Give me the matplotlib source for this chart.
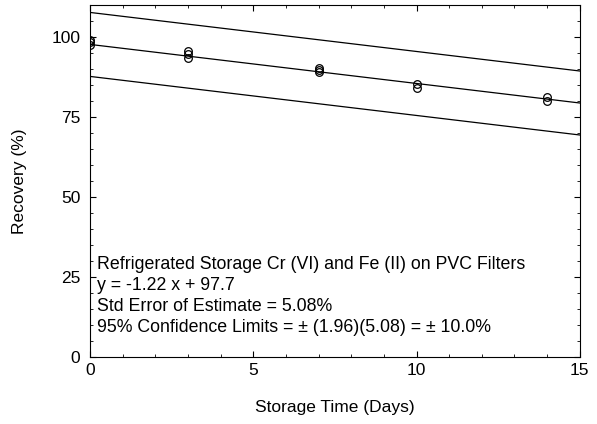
import matplotlib
matplotlib.use("Agg")
import matplotlib.pyplot as plt
from matplotlib.ticker import MultipleLocator
import numpy as np

plt.rcParams['font.family'] = ['Liberation Sans', 'DejaVu Sans']

# storage time (days) and recovery (%)
days = [0, 0, 0, 3, 3, 3, 7, 7, 7, 10, 10, 14, 14]
recovery = [97.6, 98.4, 99.0, 95.6, 94.6, 93.6, 89.2, 89.7, 90.3, 85.3, 84.0, 81.2, 80.1]

slope = -1.22
intercept = 97.7
limit = 10.0

annotation = [
    "Refrigerated Storage Cr (VI) and Fe (II) on PVC Filters",
    "y = -1.22 x + 97.7",
    "Std Error of Estimate = 5.08%",
    "95% Confidence Limits = \u00b1 (1.96)(5.08) = \u00b1 10.0%",
]

fig = plt.figure(figsize=(5.97, 4.24), dpi=100)
ax = fig.add_axes([0.151, 0.158, 0.820, 0.830])

xs = np.array([0, 15])
fit = intercept + slope * xs
ax.plot(xs, fit, color="black", lw=0.9)
ax.plot(xs, fit + limit, color="black", lw=0.9)
ax.plot(xs, fit - limit, color="black", lw=0.9)
ax.plot(days, recovery, "o", mfc="none", mec="black", ms=5.5, mew=0.9)

ax.set_xlim(0, 15)
ax.set_ylim(0, 110)
ax.set_xticks([0, 5, 10, 15])
ax.set_yticks([0, 25, 50, 75, 100])
ax.xaxis.set_minor_locator(MultipleLocator(1))
ax.yaxis.set_minor_locator(MultipleLocator(5))
ax.tick_params(which="both", direction="in", top=True, right=True, labelsize=12.5)
ax.tick_params(which="major", length=4)
ax.tick_params(which="minor", length=2.5)
ax.tick_params(axis="y", pad=7)
ax.tick_params(axis="x", pad=4)

ax.set_xlabel("Storage Time (Days)", fontsize=12.5)
ax.set_ylabel("Recovery (%)", fontsize=12.5)
ax.xaxis.set_label_coords(0.5, -0.122)
ax.yaxis.set_label_coords(-0.13, 0.5)

for i, line in enumerate(annotation):
    ax.text(0.2, 28.8 - i * 6.5, line, fontsize=12.8, va="center", ha="left")

fig.savefig("out.png", dpi=100)
